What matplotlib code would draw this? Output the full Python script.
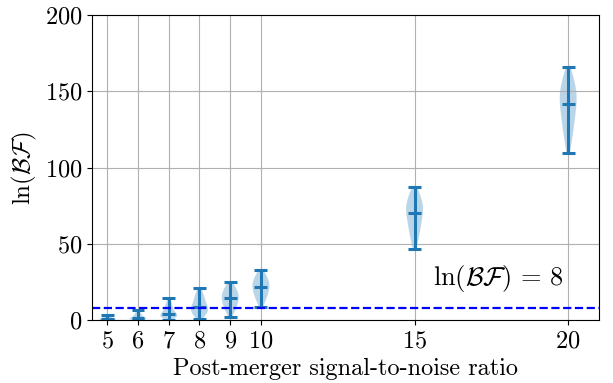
import numpy as np
import matplotlib
matplotlib.use("Agg")
import matplotlib.pyplot as plt
from statistics import NormalDist

# Computer Modern look without a LaTeX install
plt.rcParams["font.family"] = "serif"
plt.rcParams["font.serif"] = ["cmr10"]
plt.rcParams["mathtext.fontset"] = "cm"
plt.rcParams["axes.formatter.use_mathtext"] = True

# Post-merger SNR and the spread of ln(BF) at each one
snr = [5, 6, 7, 8, 9, 10, 15, 20]
lnbf_min = [0.0, 0.0, 0.4, 0.5, 2.2, 8.6, 46.5, 109.7]
lnbf_mid = [0.9, 1.5, 4.1, 8.6, 14.3, 21.7, 70.2, 141.9]
lnbf_max = [3.7, 6.4, 14.3, 21.3, 25.2, 33.1, 87.5, 165.8]
threshold = 8


def spread(lo, mid, hi, n=400):
    # two-sided normal quantiles stretched to hit lo / hi exactly
    p = np.linspace(0.06, 0.94, n)
    z = np.array([NormalDist().inv_cdf(q) for q in p])
    zmax = z.max()
    return np.where(z < 0, mid + z * (mid - lo) / zmax, mid + z * (hi - mid) / zmax)


samples = [spread(a, b, c) for a, b, c in zip(lnbf_min, lnbf_mid, lnbf_max)]

fig = plt.figure(figsize=(6.13, 3.83), dpi=100)
ax = fig.add_axes([0.150, 0.164, 0.827, 0.797])

parts = ax.violinplot(samples, positions=snr, widths=0.55, showmedians=True,
                      bw_method=0.5)
for body in parts["bodies"]:
    body.set_alpha(0.3)
for key in ["cmaxes", "cmins", "cmedians", "cbars"]:
    parts[key].set_linewidth(2.2)

# shorter caps than the default half-width
half = 0.21
for key, vals in [("cmaxes", lnbf_max), ("cmins", lnbf_min), ("cmedians", lnbf_mid)]:
    parts[key].set_segments([[[x - half, v], [x + half, v]] for x, v in zip(snr, vals)])

ax.axhline(threshold, color="b", linestyle="--", linewidth=1.6)
ax.text(15.6, 27.6, r"$\ln(\mathcal{BF})\,=\,8$", fontsize=19, va="center")

ax.set_xlim(4.5, 21)
ax.set_ylim(0, 200)
ax.set_xticks(snr)
ax.set_yticks([0, 50, 100, 150, 200])
ax.tick_params(labelsize=17.5)
ax.set_xlabel("Post-merger signal-to-noise ratio", fontsize=17.5)
ax.set_ylabel(r"$\ln(\mathcal{BF})$", fontsize=18)
ax.grid(True)

fig.savefig("out.png", dpi=100)
